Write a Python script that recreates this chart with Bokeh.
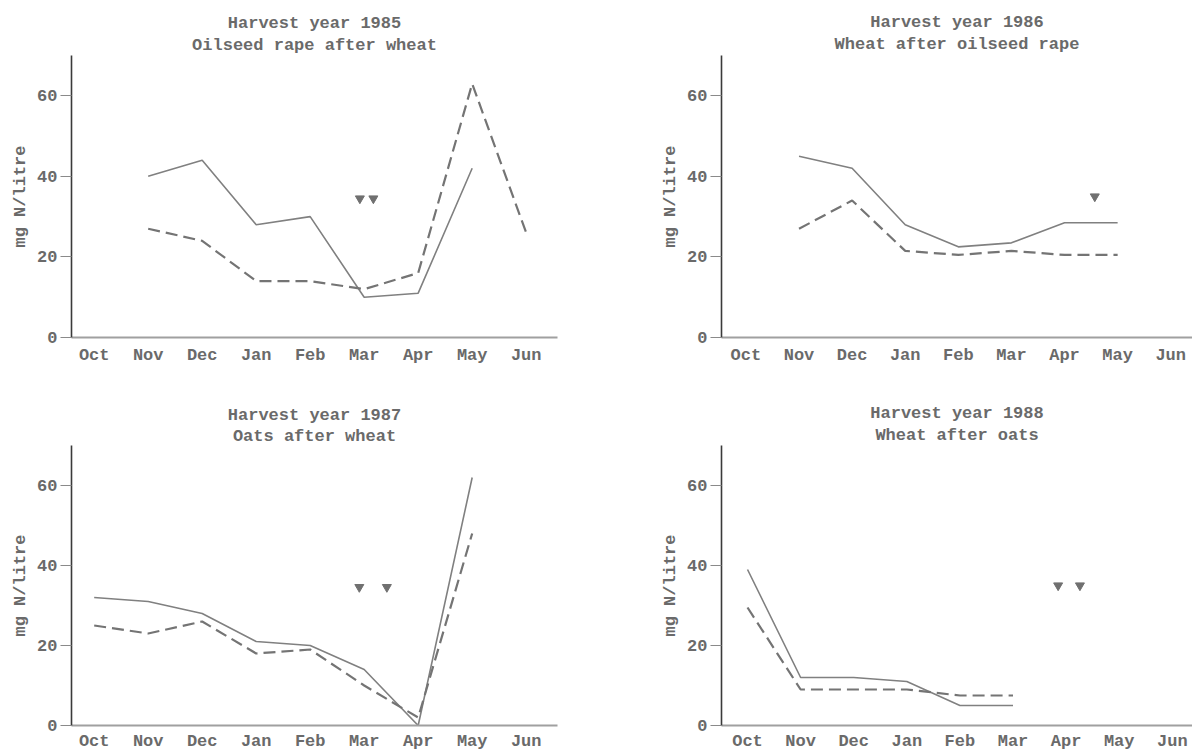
from bokeh.plotting import figure
from bokeh.layouts import gridplot
from bokeh.models import Range1d, FixedTicker, Title
from bokeh.embed import file_html
from bokeh.resources import INLINE

months = ["Oct", "Nov", "Dec", "Jan", "Feb", "Mar", "Apr", "May", "Jun"]

# Harvest year 1985 - Oilseed rape after wheat
p1_solid_m = ["Nov", "Dec", "Jan", "Feb", "Mar", "Apr", "May"]
p1_solid_v = [40, 44, 28, 30, 10, 11, 42]
p1_dash_m = ["Nov", "Dec", "Jan", "Feb", "Mar", "Apr", "May", "Jun"]
p1_dash_v = [27, 24, 14, 14, 12, 16, 63, 26]
p1_mark_x = [4.92, 5.17]
p1_mark_y = [34.5, 34.5]

# Harvest year 1986 - Wheat after oilseed rape
p2_solid_m = ["Nov", "Dec", "Jan", "Feb", "Mar", "Apr", "May"]
p2_solid_v = [45, 42, 28, 22.5, 23.5, 28.5, 28.5]
p2_dash_m = ["Nov", "Dec", "Jan", "Feb", "Mar", "Apr", "May"]
p2_dash_v = [27, 34, 21.5, 20.5, 21.5, 20.5, 20.5]
p2_mark_x = [6.57]
p2_mark_y = [35]

# Harvest year 1987 - Oats after wheat
p3_solid_m = ["Oct", "Nov", "Dec", "Jan", "Feb", "Mar", "Apr", "May"]
p3_solid_v = [32, 31, 28, 21, 20, 14, 0, 62]
p3_dash_m = ["Oct", "Nov", "Dec", "Jan", "Feb", "Mar", "Apr", "May"]
p3_dash_v = [25, 23, 26, 18, 19, 10, 2, 48]
p3_mark_x = [4.91, 5.42]
p3_mark_y = [34.6, 34.6]

# Harvest year 1988 - Wheat after oats
p4_solid_m = ["Oct", "Nov", "Dec", "Jan", "Feb", "Mar"]
p4_solid_v = [39, 12, 12, 11, 5, 5]
p4_dash_m = ["Oct", "Nov", "Dec", "Jan", "Feb", "Mar"]
p4_dash_v = [29.5, 9, 9, 9, 7.5, 7.5]
p4_mark_x = [5.85, 6.26]
p4_mark_y = [35, 35]

titles = [
    ("Harvest year 1985", "Oilseed rape after wheat"),
    ("Harvest year 1986", "Wheat after oilseed rape"),
    ("Harvest year 1987", "Oats after wheat"),
    ("Harvest year 1988", "Wheat after oats"),
]
y_ticks = [0, 20, 40, 60]

FONT = "Liberation Mono"
TXT = "#6a6a6a"
FS = "17px"


def idx(ms):
    return [months.index(m) for m in ms]


def make(width, height, xr, borders, title, solid, dash, marks, standoff,
         tstand):
    bl, br, bt, bb = borders
    p = figure(width=width, height=height, output_backend="svg",
               toolbar_location=None, x_range=Range1d(*xr),
               y_range=Range1d(0, 70), min_border_left=bl,
               min_border_right=br, min_border_top=bt, min_border_bottom=bb)
    p.outline_line_color = None
    p.grid.visible = False
    p.background_fill_color = "white"

    xa = p.xaxis[0]
    xa.ticker = FixedTicker(ticks=list(range(len(months))))
    xa.major_label_overrides = {i: m for i, m in enumerate(months)}
    xa.major_tick_line_color = None
    xa.minor_tick_line_color = None
    xa.major_tick_out = 0
    xa.major_tick_in = 0
    xa.axis_line_color = "#a0a0a0"
    xa.axis_line_width = 2
    xa.major_label_standoff = standoff
    xa.major_label_text_font = FONT
    xa.major_label_text_font_size = FS
    xa.major_label_text_font_style = "bold"
    xa.major_label_text_color = TXT

    ya = p.yaxis[0]
    ya.ticker = FixedTicker(ticks=y_ticks)
    ya.minor_tick_line_color = None
    ya.major_tick_out = 11
    ya.major_tick_in = 0
    ya.major_tick_line_color = "#8a8a8a"
    ya.major_tick_line_width = 1.2
    ya.axis_line_color = "#3a3a3a"
    ya.axis_line_width = 1.6
    ya.major_label_standoff = 3
    ya.major_label_text_font = FONT
    ya.major_label_text_font_size = FS
    ya.major_label_text_font_style = "bold"
    ya.major_label_text_color = TXT
    ya.axis_label = "mg N/litre"
    ya.axis_label_text_font = FONT
    ya.axis_label_text_font_size = FS
    ya.axis_label_text_font_style = "bold"
    ya.axis_label_text_color = TXT
    ya.axis_label_standoff = 4

    sm, sv = solid
    dm, dv = dash
    p.line(idx(sm), sv, line_color="#808080", line_width=1.6)
    p.line(idx(dm), dv, line_color="#747474", line_width=2.2,
           line_dash="12 6")
    mx, my = marks
    p.scatter(mx, my, marker="inverted_triangle", size=9,
              fill_color="#707070", line_color="#707070")

    line1, line2 = title
    p.add_layout(Title(text=line2, align="center", text_font=FONT,
                       text_font_size=FS, text_font_style="bold",
                       text_color=TXT, text_line_height=0.85,
                       standoff=tstand), "above")
    p.add_layout(Title(text=line1, align="center", text_font=FONT,
                       text_font_size=FS, text_font_style="bold",
                       text_color=TXT, text_line_height=0.85,
                       standoff=0), "above")
    return p


p1 = make(600, 380, (-0.42, 8.58), (71, 43, 55, 43), titles[0],
          (p1_solid_m, p1_solid_v), (p1_dash_m, p1_dash_v),
          (p1_mark_x, p1_mark_y), 8, 2)
p2 = make(592, 380, (-0.46, 8.41), (119, 0, 55, 43), titles[1],
          (p2_solid_m, p2_solid_v), (p2_dash_m, p2_dash_v),
          (p2_mark_x, p2_mark_y), 8, 3)
p3 = make(600, 373, (-0.42, 8.58), (71, 43, 65, 26), titles[2],
          (p3_solid_m, p3_solid_v), (p3_dash_m, p3_dash_v),
          (p3_mark_x, p3_mark_y), 6, 0)
p4 = make(592, 373, (-0.49, 8.38), (121, 0, 65, 26), titles[3],
          (p4_solid_m, p4_solid_v), (p4_dash_m, p4_dash_v),
          (p4_mark_x, p4_mark_y), 6, 2)

grid = gridplot([[p1, p2], [p3, p4]], toolbar_location=None)

open("out.html", "w").write(file_html(grid, INLINE))
